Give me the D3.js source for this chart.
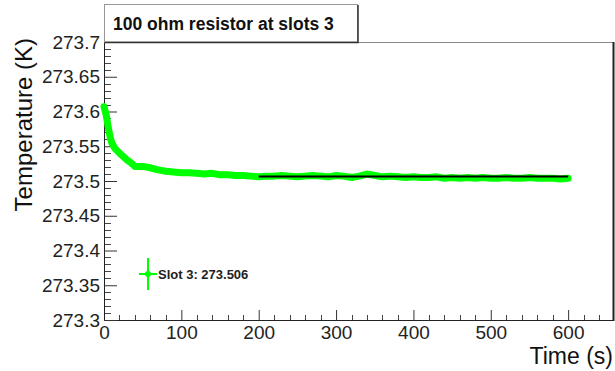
<!DOCTYPE html>
<html>
<head>
<meta charset="utf-8">
<script src="https://d3js.org/d3.v7.min.js"></script>
<style>
  body { margin: 0; background: #fff; }
  svg { display: block; font-family: "Liberation Sans", Arial, sans-serif; }
</style>
</head>
<body>
<div id="chart"></div>
<script>
const times = [0, 3, 5, 8, 10, 14, 20, 25, 30, 35, 40, 45, 50, 60, 70, 80, 90, 100, 110, 120,
  130, 140, 150, 160, 170, 180, 190, 200, 210, 220, 230, 240, 250, 260, 270, 280, 290,
  300, 310, 320, 330, 340, 350, 360, 370, 380, 390, 400, 410, 420, 430, 440, 450, 460,
  470, 480, 490, 500, 510, 520, 530, 540, 550, 560, 570, 580, 590, 600];
const temps = [273.607, 273.594, 273.580, 273.563, 273.555, 273.547, 273.540, 273.535, 273.530,
  273.526, 273.521, 273.521, 273.521, 273.519, 273.516, 273.514, 273.513, 273.512, 273.512,
  273.511, 273.510, 273.511, 273.509, 273.509, 273.508, 273.508, 273.507, 273.506, 273.507,
  273.507, 273.508, 273.507, 273.506, 273.507, 273.508, 273.507, 273.506, 273.508, 273.507,
  273.505, 273.507, 273.510, 273.508, 273.506, 273.507, 273.506, 273.505, 273.506, 273.505,
  273.505, 273.506, 273.504, 273.505, 273.504, 273.505, 273.504, 273.505, 273.504, 273.504,
  273.505, 273.504, 273.504, 273.505, 273.504, 273.504, 273.504, 273.503, 273.504];

// constant fit
const fitRange = [200, 600];
const fitValue = 273.5065;

const xMajor = [0, 100, 200, 300, 400, 500, 600];
const yMajor = [273.3, 273.35, 273.4, 273.45, 273.5, 273.55, 273.6, 273.65, 273.7];

const titleText = "100 ohm resistor at slots 3";
const legendText = "Slot 3: 273.506";

const width = 615, height = 371;
const mLeft = 104, mRight = 613, mTop = 42, mBottom = 320;

const svg = d3.select("#chart").append("svg")
    .attr("width", width)
    .attr("height", height);

const x = d3.scaleLinear().domain([0, 658]).range([mLeft, mRight]);
const y = d3.scaleLinear().domain([273.3, 273.7]).range([mBottom, mTop]);

// frame
svg.append("rect")
    .attr("x", mLeft + 0.5).attr("y", mTop + 0.5)
    .attr("width", mRight - mLeft).attr("height", mBottom - mTop)
    .attr("fill", "none").attr("stroke", "#888");
svg.append("line")
    .attr("x1", mRight + 0.5).attr("x2", mRight + 0.5)
    .attr("y1", mTop).attr("y2", mBottom + 1)
    .attr("stroke", "#222").attr("stroke-width", 2);

// minor ticks
const xMinor = d3.range(0, 660, 20).filter(v => v % 100 !== 0);
svg.append("g").selectAll("line").data(xMinor).join("line")
    .attr("x1", d => Math.round(x(d)) + 0.5).attr("x2", d => Math.round(x(d)) + 0.5)
    .attr("y1", mBottom).attr("y2", mBottom - 5)
    .attr("stroke", "#444");
const yMinor = d3.range(0, 41).map(i => 273.3 + i * 0.01).filter((v, i) => i % 5 !== 0);
svg.append("g").selectAll("line").data(yMinor).join("line")
    .attr("x1", mLeft).attr("x2", mLeft + 7)
    .attr("y1", d => Math.round(y(d)) + 0.5).attr("y2", d => Math.round(y(d)) + 0.5)
    .attr("stroke", "#444");

// axes
const xAxis = svg.append("g")
    .attr("transform", `translate(0,${mBottom})`)
    .call(d3.axisBottom(x).tickValues(xMajor).tickSize(-10).tickSizeOuter(0).tickPadding(6).tickFormat(d3.format("d")));
const yAxis = svg.append("g")
    .attr("transform", `translate(${mLeft},0)`)
    .call(d3.axisLeft(y).tickValues(yMajor).tickSize(-13).tickSizeOuter(0).tickPadding(4)
      .tickFormat(d => String(+d.toFixed(2))));
[xAxis, yAxis].forEach(a => {
  a.selectAll("text").attr("font-size", 19).attr("fill", "#222").attr("font-family", "Liberation Sans, Arial, sans-serif");
  a.selectAll("line").attr("stroke", "#333");
  a.select(".domain").attr("stroke", "#222");
});

// data band
const line = d3.line().x((d, i) => x(times[i])).y(d => y(d));
svg.append("path")
    .datum(temps)
    .attr("d", line)
    .attr("fill", "none")
    .attr("stroke", "#00ff00")
    .attr("stroke-width", 7)
    .attr("stroke-linejoin", "round")
    .attr("stroke-linecap", "round");

// fit line
svg.append("line")
    .attr("x1", x(fitRange[0])).attr("x2", x(fitRange[1]))
    .attr("y1", y(fitValue)).attr("y2", y(fitValue))
    .attr("stroke", "#000").attr("stroke-width", 2);

// title box
svg.append("rect")
    .attr("x", 104.5).attr("y", 4.5).attr("width", 253).attr("height", 37.5)
    .attr("fill", "#fff").attr("stroke", "#999");
svg.append("path")
    .attr("d", "M358,5 V42.5 H105")
    .attr("fill", "none").attr("stroke", "#333").attr("stroke-width", 1.5);
svg.append("text")
    .attr("x", 113).attr("y", 30)
    .attr("font-size", 17.5).attr("font-weight", "bold").attr("fill", "#111")
    .text(titleText);

// axis titles
svg.append("text")
    .attr("transform", "translate(32,38) rotate(-90)")
    .attr("text-anchor", "end")
    .attr("font-size", 24).attr("fill", "#111")
    .text("Temperature (K)");
svg.append("text")
    .attr("x", 613).attr("y", 364)
    .attr("text-anchor", "end")
    .attr("font-size", 23).attr("fill", "#111")
    .text("Time (s)");

// legend
const lg = svg.append("g");
lg.append("line").attr("x1", 148).attr("x2", 148).attr("y1", 258).attr("y2", 290)
    .attr("stroke", "#00ff00").attr("stroke-width", 2);
lg.append("line").attr("x1", 139).attr("x2", 157).attr("y1", 274).attr("y2", 274)
    .attr("stroke", "#00ff00").attr("stroke-width", 2);
lg.append("circle").attr("cx", 148).attr("cy", 274).attr("r", 3).attr("fill", "#00ff00");
lg.append("text").attr("x", 158).attr("y", 279)
    .attr("font-size", 13).attr("font-weight", "bold").attr("fill", "#222")
    .text(legendText);
</script>
</body>
</html>
